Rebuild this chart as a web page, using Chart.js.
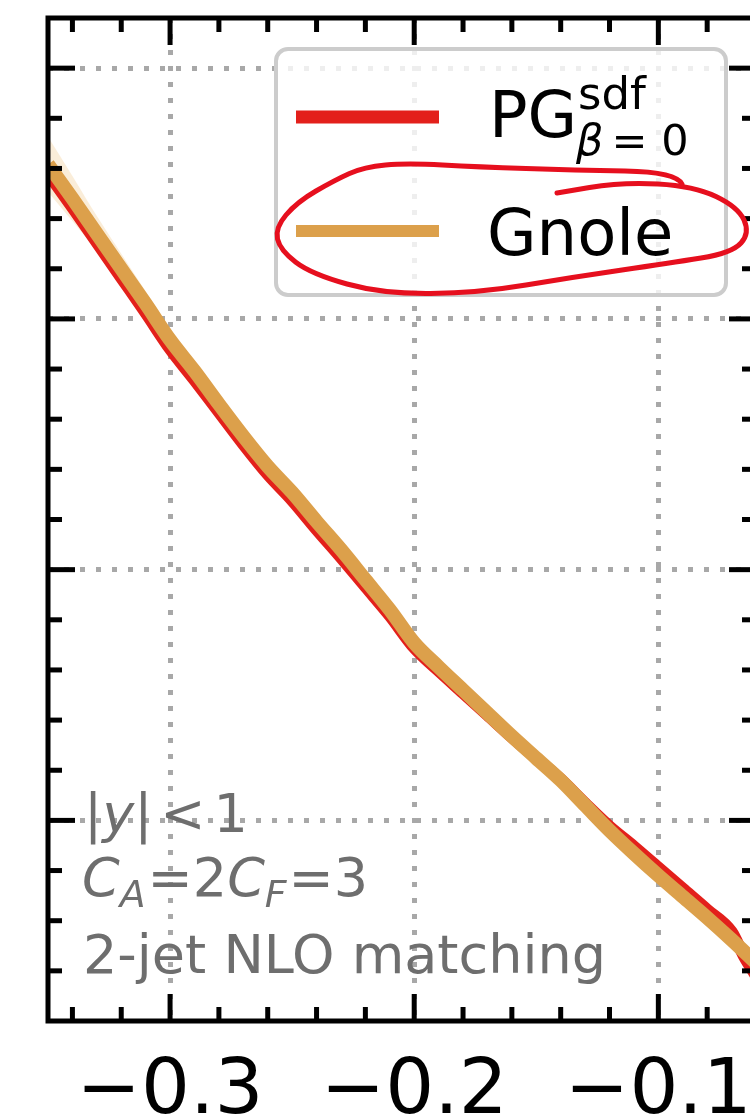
<!DOCTYPE html>
<html>
<head>
<meta charset="utf-8">
<script src="https://cdn.jsdelivr.net/npm/chart.js@4"></script>
<style>
  html, body { margin: 0; padding: 0; background: #fff; overflow: hidden; }
  #wrap { width: 790px; height: 1116px; }
</style>
</head>
<body>
<div id="wrap"><canvas id="shapeChart" width="790" height="1116"></canvas></div>
<script>
// Gnole curve with its uncertainty half-width
const gnoleX = [-0.35, -0.34, -0.33, -0.32, -0.31, -0.30, -0.29, -0.28, -0.27, -0.26,
                -0.25, -0.24, -0.23, -0.22, -0.21, -0.20, -0.19, -0.18, -0.17, -0.16,
                -0.15, -0.14, -0.13, -0.12, -0.11, -0.10, -0.09, -0.08, -0.07, -0.06];
const gnoleY = [2.616, 2.48, 2.34, 2.20, 2.06, 1.916, 1.792, 1.66, 1.532, 1.412,
                1.308, 1.192, 1.08, 0.96, 0.84, 0.708, 0.612, 0.52, 0.428, 0.336,
                0.248, 0.16, 0.06, -0.04, -0.132, -0.22, -0.304, -0.388, -0.476, -0.568];
const gnoleErr = [0.11, 0.09, 0.07, 0.06, 0.05, 0.045, 0.04, 0.04, 0.035, 0.035,
                  0.03, 0.03, 0.03, 0.03, 0.03, 0.025, 0.025, 0.025, 0.025, 0.025,
                  0.025, 0.025, 0.025, 0.025, 0.025, 0.025, 0.025, 0.025, 0.03, 0.03];

// PG (beta = 0) curve
const pgX = [-0.35, -0.34, -0.33, -0.32, -0.31, -0.30, -0.29, -0.28, -0.27, -0.26,
             -0.25, -0.24, -0.23, -0.22, -0.21, -0.20, -0.19, -0.18, -0.17, -0.16,
             -0.15, -0.14, -0.13, -0.12, -0.11, -0.10, -0.09, -0.08, -0.07, -0.065, -0.06];
const pgY = [2.58, 2.444, 2.304, 2.164, 2.024, 1.88, 1.756, 1.628, 1.50, 1.38,
             1.276, 1.16, 1.048, 0.932, 0.816, 0.688, 0.596, 0.508, 0.42, 0.332,
             0.248, 0.164, 0.068, -0.024, -0.104, -0.188, -0.272, -0.356, -0.444, -0.54, -0.62];

// axis ticks
const xMajor = [-0.3, -0.2, -0.1];
const xMinor = [-0.34, -0.32, -0.28, -0.26, -0.24, -0.22, -0.18, -0.16, -0.14, -0.12, -0.08];
const yMajor = [0, 1, 2, 3];
const yMinor = [-0.6, -0.4, -0.2, 0.2, 0.4, 0.6, 0.8, 1.2, 1.4, 1.6, 1.8, 2.2, 2.4, 2.6, 2.8];

const RED = '#e3201b';
const ORANGE = '#dca04b';
const FONT = '"DejaVu Sans", sans-serif';

const pts = (xs, ys) => xs.map((x, i) => ({x: x, y: ys[i]}));
const gnoleHi = gnoleY.map((v, i) => v + gnoleErr[i]);
const gnoleLo = gnoleY.map((v, i) => v - gnoleErr[i]);

// draw a string made of plain / italic / sub / superscript pieces
function drawRuns(ctx, x, y, runs, size) {
    runs.forEach(r => {
        const s = r.sub || r.sup ? size * 0.7 : size;
        ctx.font = (r.it ? 'italic ' : '') + s + 'px ' + FONT;
        const dy = r.sub ? size * 0.2 : (r.sup ? -size * 0.42 : 0);
        ctx.fillText(r.t, x, y + dy);
        x += ctx.measureText(r.t).width + (r.gap || 0);
    });
}

// smooth freehand stroke through a list of [x, y]
function freehand(ctx, p) {
    ctx.beginPath();
    ctx.moveTo(p[0][0], p[0][1]);
    for (let i = 1; i < p.length - 1; i++) {
        const mx = (p[i][0] + p[i + 1][0]) / 2, my = (p[i][1] + p[i + 1][1]) / 2;
        ctx.quadraticCurveTo(p[i][0], p[i][1], mx, my);
    }
    const last = p[p.length - 1];
    ctx.lineTo(last[0], last[1]);
    ctx.stroke();
}

const frame = {
    id: 'frame',
    afterDatasetsDraw(chart) {
        const {ctx, chartArea: a, scales: {x, y}} = chart;
        ctx.save();
        ctx.strokeStyle = '#000';
        ctx.lineWidth = 5;
        const seg = (x1, y1, x2, y2) => { ctx.beginPath(); ctx.moveTo(x1, y1); ctx.lineTo(x2, y2); ctx.stroke(); };
        // inward ticks on all four sides
        const xt = (vals, len) => vals.forEach(v => {
            const p = x.getPixelForValue(v);
            seg(p, a.top, p, a.top + len);
            seg(p, a.bottom, p, a.bottom - len);
        });
        const yt = (vals, len) => vals.forEach(v => {
            const p = y.getPixelForValue(v);
            seg(a.left, p, a.left + len, p);
            seg(a.right, p, a.right - len, p);
        });
        xt(xMajor, 27); xt(xMinor, 14);
        yt(yMajor, 27); yt(yMinor, 14);
        ctx.strokeRect(a.left, a.top, a.right - a.left, a.bottom - a.top);

        // legend
        ctx.beginPath();
        ctx.roundRect(276, 49, 450, 246, 12);
        ctx.fillStyle = 'rgba(255,255,255,0.8)';
        ctx.fill();
        ctx.strokeStyle = '#cccccc';
        ctx.lineWidth = 4;
        ctx.stroke();
        ctx.lineWidth = 13;
        ctx.strokeStyle = RED;
        seg(296, 117, 439, 117);
        ctx.lineWidth = 12;
        ctx.strokeStyle = ORANGE;
        seg(296, 231, 439, 231);
        ctx.fillStyle = '#000';
        ctx.textBaseline = 'alphabetic';
        ctx.font = '64px ' + FONT;
        ctx.fillText('PG', 489, 137);
        ctx.font = '45px ' + FONT;
        ctx.fillText('sdf', 578, 109);
        drawRuns(ctx, 576, 155, [{t: 'β', it: true, gap: 8}, {t: '= 0'}], 43);
        ctx.font = '64px ' + FONT;
        ctx.fillText('Gnole', 487, 255);

        // cuts and settings note
        ctx.fillStyle = '#6e6e6e';
        drawRuns(ctx, 84, 832, [{t: '|'}, {t: 'y', it: true}, {t: '|', gap: 8}, {t: '<', gap: 8}, {t: '1'}], 54);
        drawRuns(ctx, 82, 896, [{t: 'C', it: true}, {t: 'A', it: true, sub: true, gap: 2}, {t: '=2'},
                                {t: 'C', it: true}, {t: 'F', it: true, sub: true, gap: 2}, {t: '=3'}], 54);
        drawRuns(ctx, 83, 973, [{t: '2-jet NLO matching'}], 54);

        // hand-drawn red ring around the Gnole entry
        ctx.strokeStyle = '#e60f1e';
        ctx.lineWidth = 5;
        ctx.lineCap = 'round';
        ctx.lineJoin = 'round';
        freehand(ctx, [[682, 184], [676, 172], [574, 170], [478, 167], [407, 163], [364, 167],
                       [335, 180], [297, 202], [275, 228], [280, 250], [311, 274], [383, 294],
                       [478, 293], [574, 277], [670, 263], [732, 253], [750, 233], [738, 207],
                       [694, 186], [622, 182], [557, 193]]);
        ctx.restore();
    }
};

new Chart(document.getElementById('shapeChart'), {
    type: 'line',
    data: {
        datasets: [{
            label: 'Gnole',
            data: pts(gnoleX, gnoleY),
            borderColor: ORANGE,
            borderWidth: 14,
            pointRadius: 0,
            cubicInterpolationMode: 'monotone',
            fill: false,
            order: 1
        }, {
            label: 'PG',
            data: pts(pgX, pgY),
            borderColor: RED,
            borderWidth: 12,
            pointRadius: 0,
            cubicInterpolationMode: 'monotone',
            fill: false,
            order: 2
        }, {
            label: 'Gnole band',
            data: pts(gnoleX, gnoleHi),
            borderWidth: 0,
            pointRadius: 0,
            backgroundColor: 'rgba(240, 196, 130, 0.3)',
            cubicInterpolationMode: 'monotone',
            fill: '+1',
            order: 3
        }, {
            label: 'Gnole band low',
            data: pts(gnoleX, gnoleLo),
            borderWidth: 0,
            pointRadius: 0,
            cubicInterpolationMode: 'monotone',
            fill: false,
            order: 4
        }]
    },
    options: {
        responsive: false,
        animation: false,
        devicePixelRatio: 1,
        layout: { padding: { left: 48, top: 18, right: 34, bottom: 0 } },
        plugins: { legend: { display: false }, tooltip: { enabled: false } },
        scales: {
            x: {
                type: 'linear',
                min: -0.35,
                max: -0.06,
                afterBuildTicks: s => { s.ticks = xMajor.map(v => ({value: v})); },
                afterFit: s => { s.height = 95; },
                grid: { color: '#a8a8a8', lineWidth: 5, drawTicks: false },
                border: { display: false, dash: [5, 11] },
                ticks: {
                    padding: 26,
                    color: '#000',
                    font: { family: 'DejaVu Sans', size: 77 },
                    maxRotation: 0,
                    callback: v => (v < 0 ? '\u2212' : '') + Math.abs(v).toFixed(1)
                }
            },
            y: {
                type: 'linear',
                min: -0.8,
                max: 3.2,
                afterBuildTicks: s => { s.ticks = yMajor.map(v => ({value: v})); },
                afterFit: s => { s.width = 0; },
                grid: { color: '#a8a8a8', lineWidth: 5, drawTicks: false },
                border: { display: false, dash: [5, 11] },
                ticks: { display: false }
            }
        }
    },
    plugins: [frame]
});
</script>
</body>
</html>
